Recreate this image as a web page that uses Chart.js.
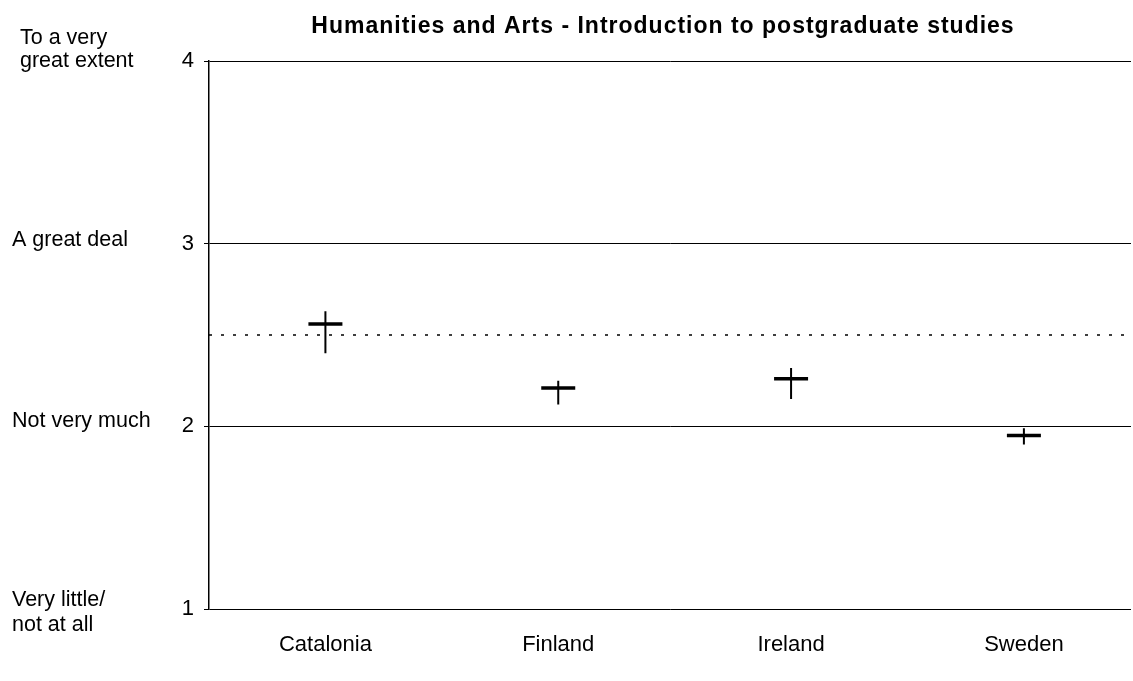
<!DOCTYPE html>
<html>
<head>
<meta charset="utf-8">
<script src="https://cdn.jsdelivr.net/npm/chart.js@4.4.1/dist/chart.umd.min.js"></script>
<style>
html,body{margin:0;padding:0;background:#fff;}
#wrap{width:1133px;height:681px;position:relative;}
</style>
</head>
<body>
<div id="wrap"><canvas id="c"></canvas></div>
<script>
const titleText = 'Humanities and Arts - Introduction to postgraduate studies';
const categories = ['Catalonia', 'Finland', 'Ireland', 'Sweden'];
const means = [2.56, 2.21, 2.26, 1.95];
const lows = [2.40, 2.12, 2.15, 1.90];
const highs = [2.63, 2.25, 2.32, 1.99];
const referenceValue = 2.5;
const yTickValues = [1, 2, 3, 4];
const levelLabels = [
  ['Very little/', 'not at all'],
  ['Not very much'],
  ['A great deal'],
  ['To a very', 'great extent']
];

const FONT = '"Liberation Sans", Arial, sans-serif';

// error bar segments, separated by gaps
const errorData = [];
categories.forEach((c, i) => {
  errorData.push({x: i, y: lows[i]});
  errorData.push({x: i, y: highs[i]});
  errorData.push({x: i, y: null});
});
const meanData = means.map((m, i) => ({x: i, y: m}));

// text placement for the verbal level labels (style only)
const levelStyle = {
  1: {dx: 12, dy: -3, gap: 25},
  2: {dx: 12, dy: 1, gap: 25},
  3: {dx: 12, dy: 2, gap: 25},
  4: {dx: 20, dy: -17, gap: 23}
};

const textPlugin = {
  id: 'textPlugin',
  afterDraw(chart) {
    const ctx = chart.ctx;
    const y = chart.scales.y;
    const area = chart.chartArea;
    ctx.save();
    ctx.fillStyle = '#000';
    ctx.font = '21.5px ' + FONT;
    ctx.textAlign = 'left';
    ctx.textBaseline = 'alphabetic';
    yTickValues.forEach((v, i) => {
      const st = levelStyle[v];
      const base = y.getPixelForValue(v) + st.dy;
      levelLabels[i].forEach((line, k) => {
        ctx.fillText(line, st.dx, base + k * st.gap);
      });
    });
    // title
    ctx.font = 'bold 23px ' + FONT;
    ctx.letterSpacing = '1px';
    ctx.textAlign = 'center';
    ctx.fillText(titleText, (area.left + area.right) / 2 - 7, 33);
    ctx.restore();
  }
};

new Chart(document.getElementById('c'), {
  type: 'scatter',
  data: {
    datasets: [
      {
        label: 'reference',
        data: [{x: -0.5, y: referenceValue}, {x: 3.46, y: referenceValue}],
        showLine: true,
        borderColor: '#000',
        borderWidth: 1.5,
        borderDash: [3, 9],
        pointRadius: 0,
        order: 3
      },
      {
        label: 'range',
        data: errorData,
        showLine: true,
        spanGaps: false,
        borderColor: '#000',
        borderWidth: 2,
        pointRadius: 0,
        order: 2
      },
      {
        label: 'mean',
        data: meanData,
        showLine: false,
        pointStyle: 'line',
        pointRadius: 17,
        pointBorderWidth: 3.5,
        pointBorderColor: '#000',
        pointBackgroundColor: '#000',
        order: 1
      }
    ]
  },
  options: {
    responsive: true,
    maintainAspectRatio: false,
    animation: false,
    layout: {autoPadding: false, padding: {left: 0, right: 2, top: 61, bottom: 0}},
    plugins: {
      legend: {display: false},
      tooltip: {enabled: false},
      title: {display: false}
    },
    scales: {
      x: {
        type: 'linear',
        min: -0.5,
        max: 3.46,
        afterBuildTicks(scale) {
          scale.ticks = categories.map((c, i) => ({value: i}));
        },
        afterFit(scale) {
          scale.height = 72;
          scale.paddingLeft = 0;
          scale.paddingRight = 0;
        },
        grid: {display: false, drawTicks: false},
        border: {display: false},
        ticks: {
          color: '#000',
          font: {family: FONT, size: 22},
          padding: 23,
          maxRotation: 0,
          autoSkip: false,
          callback: (v) => categories[v]
        }
      },
      y: {
        min: 1,
        max: 4,
        afterBuildTicks(scale) {
          scale.ticks = yTickValues.map(v => ({value: v}));
        },
        afterFit(scale) {
          scale.width = 209;
          scale.paddingTop = 0;
          scale.paddingBottom = 0;
        },
        grid: {
          color: '#000',
          lineWidth: 1,
          drawTicks: true,
          tickLength: 5
        },
        border: {display: true, color: '#000', width: 1.5},
        ticks: {
          color: '#000',
          font: {family: FONT, size: 22},
          padding: 10,
          callback: (v) => String(v)
        }
      }
    }
  },
  plugins: [textPlugin]
});
</script>
</body>
</html>
